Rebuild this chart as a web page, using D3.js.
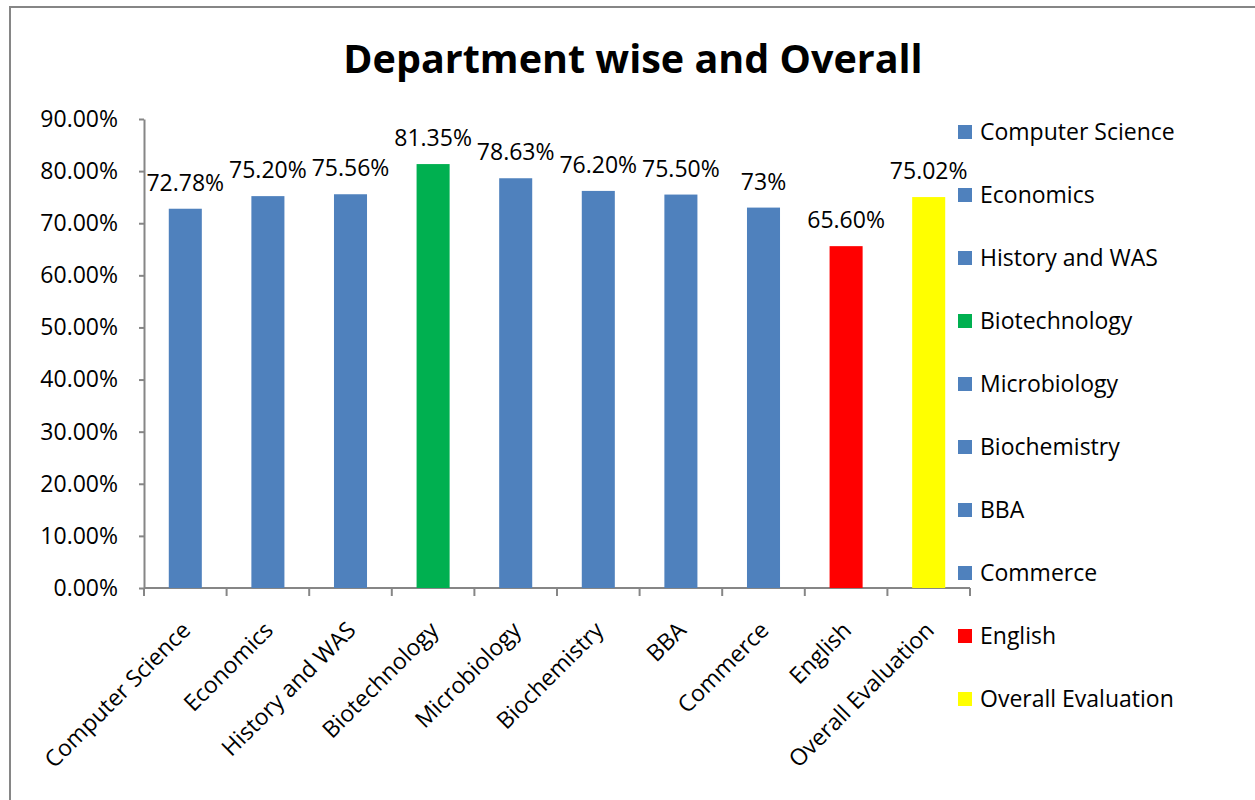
<!DOCTYPE html>
<html>
<head>
<meta charset="utf-8">
<script src="https://cdn.jsdelivr.net/npm/d3@7"></script>
<style>
  body { margin: 0; background: #fff; }
  text { font-family: "Open Sans", sans-serif; fill: #000; }
</style>
</head>
<body>
<svg id="chart" width="1255" height="800"></svg>
<script>
// departments and their scores (percent)
const departments = ['Computer Science', 'Economics', 'History and WAS', 'Biotechnology',
    'Microbiology', 'Biochemistry', 'BBA', 'Commerce', 'English', 'Overall Evaluation'];
const scores = [72.78, 75.20, 75.56, 81.35, 78.63, 76.20, 75.50, 73, 65.60, 75.02];
const scoreLabels = ['72.78%', '75.20%', '75.56%', '81.35%', '78.63%', '76.20%', '75.50%', '73%', '65.60%', '75.02%'];
const barColors = ['#4F81BD', '#4F81BD', '#4F81BD', '#00B050', '#4F81BD',
    '#4F81BD', '#4F81BD', '#4F81BD', '#FF0000', '#FFFF00'];
const yTicks = [0, 10, 20, 30, 40, 50, 60, 70, 80, 90];

const svg = d3.select('#chart');
const axisColor = '#868686';
const fontSize = '23px';

// outer chart frame
svg.append('rect')
    .attr('x', 10).attr('y', 7)
    .attr('width', 1260).attr('height', 810)
    .attr('fill', 'none')
    .attr('stroke', axisColor)
    .attr('stroke-width', 2);

// title
svg.append('text')
    .attr('x', 633).attr('y', 73)
    .attr('text-anchor', 'middle')
    .style('font-size', '39.5px')
    .style('font-weight', 'bold')
    .text('Department wise and Overall');

const plot = { left: 144, right: 970, top: 119, bottom: 588 };

const x = d3.scaleBand()
    .domain(departments)
    .range([plot.left, plot.right])
    .paddingInner(0.6)
    .paddingOuter(0.3);

const y = d3.scaleLinear()
    .domain([0, 90])
    .range([plot.bottom, plot.top]);

// y axis
const yAxis = svg.append('g')
    .attr('transform', `translate(${plot.left},0)`)
    .call(d3.axisLeft(y).tickValues(yTicks).tickSize(5).tickSizeOuter(0)
        .tickFormat(d => d.toFixed(2) + '%').tickPadding(21));
yAxis.select('.domain').attr('stroke', axisColor).attr('stroke-width', 2);
yAxis.selectAll('.tick line').attr('stroke', axisColor).attr('stroke-width', 2);
yAxis.selectAll('.tick text')
    .style('font-size', fontSize)
    .style('font-family', '"Open Sans", sans-serif')
    .attr('fill', '#000');

// x axis: ticks at band boundaries
const boundaries = d3.range(departments.length + 1).map(i => plot.left + i * (plot.right - plot.left) / departments.length);
const xAxis = svg.append('g');
xAxis.append('line')
    .attr('x1', plot.left).attr('x2', plot.right)
    .attr('y1', plot.bottom).attr('y2', plot.bottom)
    .attr('stroke', axisColor).attr('stroke-width', 2);
xAxis.selectAll('line.tick')
    .data(boundaries)
    .join('line')
    .attr('class', 'tick')
    .attr('x1', d => d).attr('x2', d => d)
    .attr('y1', plot.bottom).attr('y2', plot.bottom + 8)
    .attr('stroke', axisColor).attr('stroke-width', 2);

xAxis.selectAll('text.cat')
    .data(departments)
    .join('text')
    .attr('class', 'cat')
    .attr('text-anchor', 'end')
    .attr('transform', d => `translate(${x(d) + x.bandwidth() / 2 + 1},${plot.bottom + 38}) rotate(-45)`)
    .attr('dy', '0.35em')
    .style('font-size', fontSize)
    .text(d => d);

// bars
svg.selectAll('rect.bar')
    .data(departments)
    .join('rect')
    .attr('class', 'bar')
    .attr('x', d => x(d))
    .attr('width', x.bandwidth())
    .attr('y', (d, i) => y(scores[i]))
    .attr('height', (d, i) => y(0) - y(scores[i]))
    .attr('fill', (d, i) => barColors[i]);

// data labels
svg.selectAll('text.val')
    .data(departments)
    .join('text')
    .attr('class', 'val')
    .attr('text-anchor', 'middle')
    .attr('x', d => x(d) + x.bandwidth() / 2)
    .attr('y', (d, i) => y(scores[i]) - 18)
    .style('font-size', fontSize)
    .text((d, i) => scoreLabels[i]);

// legend
const legend = svg.append('g')
    .selectAll('g')
    .data(departments)
    .join('g')
    .attr('transform', (d, i) => `translate(958,${132 + i * 63})`);
legend.append('rect')
    .attr('x', 0).attr('y', -7)
    .attr('width', 14).attr('height', 14)
    .attr('fill', (d, i) => barColors[i]);
legend.append('text')
    .attr('x', 22)
    .attr('dy', '0.35em')
    .style('font-size', fontSize)
    .text(d => d);
</script>
</body>
</html>
